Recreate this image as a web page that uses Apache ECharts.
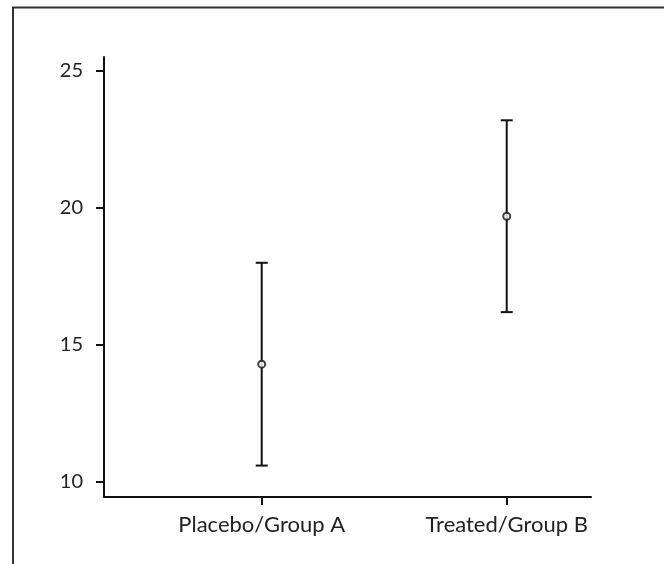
<!DOCTYPE html>
<html>
<head>
<meta charset="utf-8">
<script src="https://cdn.jsdelivr.net/npm/echarts@6/dist/echarts.min.js"></script>
<style>
html,body{margin:0;padding:0;background:#fff;}
#chart{width:664px;height:564px;}
</style>
</head>
<body>
<div id="chart"></div>
<script>
var categories = ['Placebo/Group A', 'Treated/Group B'];
var means = [14.3, 19.7];
var lowers = [10.6, 16.2];
var uppers = [18.0, 23.2];
var yTicks = [10, 15, 20, 25];

var pos = categories.map(function (c, i) { return i + 1; });
var barData = pos.map(function (p, i) { return [p, lowers[i], uppers[i]]; });
var pointData = pos.map(function (p, i) { return [p, means[i]]; });

var chart = echarts.init(document.getElementById('chart'), null, {renderer: 'canvas'});
var FONT = 'Lato';
chart.setOption({
  animation: false,
  backgroundColor: '#ffffff',
  grid: {left: 104, top: 57, right: 73, bottom: 67, containLabel: false},
  graphic: [{
    type: 'polyline',
    shape: {points: [[13, 564], [13, 7.5], [664, 7.5]]},
    style: {stroke: '#333', lineWidth: 2, fill: null},
    silent: true
  }],
  xAxis: {
    type: 'value',
    min: 0.3563,
    max: 2.344,
    splitLine: {show: false},
    axisLine: {show: true, lineStyle: {color: '#111', width: 2}},
    axisTick: {show: true, length: 8, lineStyle: {color: '#111', width: 2}, customValues: pos},
    axisLabel: {
      customValues: pos,
      margin: 17,
      color: '#222',
      fontFamily: FONT,
      fontSize: 22,
      formatter: function (v) { return categories[Math.round(v) - 1] || ''; }
    }
  },
  yAxis: {
    type: 'value',
    min: 9.453,
    max: 25.51,
    splitLine: {show: false},
    axisLine: {show: true, lineStyle: {color: '#111', width: 2}},
    axisTick: {show: true, length: 8, lineStyle: {color: '#111', width: 2}, customValues: yTicks},
    axisLabel: {customValues: yTicks, margin: 21, color: '#222', fontFamily: FONT, fontSize: 20}
  },
  series: [{
    type: 'custom',
    data: barData,
    renderItem: function (params, api) {
      var x = api.value(0);
      var lo = api.coord([x, api.value(1)]);
      var hi = api.coord([x, api.value(2)]);
      var hw = 6;
      var st = {stroke: '#111', lineWidth: 2};
      return {
        type: 'group',
        children: [
          {type: 'line', shape: {x1: lo[0], y1: lo[1], x2: hi[0], y2: hi[1]}, style: st},
          {type: 'line', shape: {x1: lo[0] - hw, y1: lo[1], x2: lo[0] + hw, y2: lo[1]}, style: st},
          {type: 'line', shape: {x1: hi[0] - hw, y1: hi[1], x2: hi[0] + hw, y2: hi[1]}, style: st}
        ]
      };
    },
    encode: {x: 0, y: [1, 2]},
    z: 2
  }, {
    type: 'scatter',
    data: pointData,
    symbol: 'circle',
    symbolSize: 7,
    itemStyle: {color: '#fff', borderColor: '#111', borderWidth: 2},
    z: 3
  }]
});
</script>
</body>
</html>
